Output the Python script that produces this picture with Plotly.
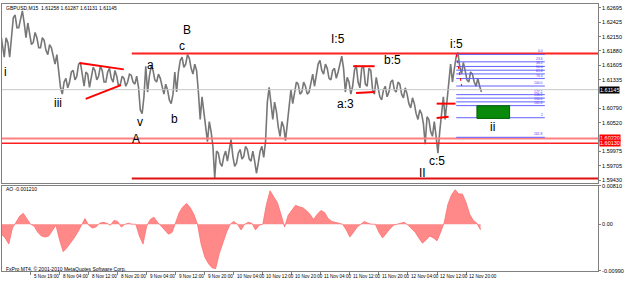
import plotly.graph_objects as go

# ---------------- data ----------------
hours = list(range(133))  # trading hours from 5 Nov 11:00 (M15 chart, hourly summary)
price_high = [1.6223, 1.6213, 1.6204, 1.6251, 1.6256, 1.6251, 1.6264, 1.6241, 1.6223, 1.6223,
              1.6213, 1.6213, 1.6208, 1.6200, 1.6194, 1.6181, 1.6148, 1.6129, 1.6136, 1.6148,
              1.6151, 1.6163, 1.6166, 1.6148, 1.6144, 1.6157, 1.6151, 1.6159, 1.6151, 1.6148,
              1.6155, 1.6151, 1.6140, 1.6140, 1.6136, 1.6144, 1.6142, 1.6140, 1.6119, 1.6101,
              1.6159, 1.6159, 1.6151, 1.6144, 1.6136, 1.6125, 1.6114, 1.6106, 1.6148, 1.6170,
              1.6176, 1.6181, 1.6174, 1.6163, 1.6151, 1.6101, 1.6073, 1.6054, 1.6035, 1.5998,
              1.5994, 1.5988, 1.5998, 1.6020, 1.5988, 1.5994, 1.6001, 1.6007, 1.6001, 1.5998,
              1.5979, 1.5998, 1.6007, 1.6091, 1.6119, 1.6091, 1.6073, 1.6054, 1.6044, 1.6091,
              1.6114, 1.6129, 1.6125, 1.6129, 1.6121, 1.6129, 1.6144, 1.6163, 1.6170, 1.6163,
              1.6155, 1.6151, 1.6155, 1.6166, 1.6178, 1.6138, 1.6129, 1.6151, 1.6161, 1.6155,
              1.6159, 1.6155, 1.6151, 1.6138, 1.6119, 1.6114, 1.6121, 1.6129, 1.6133, 1.6129,
              1.6125, 1.6118, 1.6106, 1.6099, 1.6088, 1.6076, 1.6069, 1.6063, 1.6058, 1.6054,
              1.6026, 1.6069, 1.6101, 1.6129, 1.6163, 1.6176, 1.6185, 1.6166, 1.6151, 1.6148,
              1.6144, 1.6136, 1.6121]
price_low = [1.6194, 1.6176, 1.6176, 1.6223, 1.6232, 1.6232, 1.6241, 1.6213, 1.6200, 1.6204,
             1.6194, 1.6194, 1.6189, 1.6181, 1.6176, 1.6163, 1.6119, 1.6106, 1.6118, 1.6129,
             1.6133, 1.6140, 1.6144, 1.6121, 1.6119, 1.6136, 1.6133, 1.6140, 1.6129, 1.6129,
             1.6136, 1.6129, 1.6121, 1.6125, 1.6121, 1.6129, 1.6129, 1.6125, 1.6076, 1.6069,
             1.6110, 1.6140, 1.6133, 1.6129, 1.6118, 1.6106, 1.6095, 1.6088, 1.6110, 1.6148,
             1.6157, 1.6163, 1.6155, 1.6144, 1.6110, 1.6058, 1.6039, 1.6016, 1.6007, 1.5947,
             1.5975, 1.5969, 1.5979, 1.5998, 1.5969, 1.5975, 1.5983, 1.5988, 1.5983, 1.5979,
             1.5956, 1.5975, 1.5986, 1.6016, 1.6082, 1.6058, 1.6044, 1.6026, 1.6018, 1.6054,
             1.6088, 1.6106, 1.6106, 1.6110, 1.6106, 1.6110, 1.6121, 1.6144, 1.6151, 1.6144,
             1.6136, 1.6133, 1.6136, 1.6148, 1.6155, 1.6110, 1.6106, 1.6121, 1.6129, 1.6118,
             1.6125, 1.6121, 1.6114, 1.6106, 1.6101, 1.6095, 1.6101, 1.6110, 1.6114, 1.6110,
             1.6106, 1.6099, 1.6088, 1.6080, 1.6069, 1.6058, 1.6050, 1.6011, 1.6035, 1.6026,
             1.5994, 1.6035, 1.6058, 1.6091, 1.6129, 1.6151, 1.6159, 1.6144, 1.6133, 1.6129,
             1.6129, 1.6121, 1.6110]
ao_values = [-0.0021, -0.0029, -0.0042, -0.0008, 0.0004, 0.0017, 0.0023, 0.0012, 0.0000, -0.0004,
             -0.0017, -0.0025, -0.0027, -0.0025, -0.0012, -0.0002, -0.0033, -0.0058, -0.0050, -0.0040,
             -0.0029, -0.0017, -0.0002, 0.0012, -0.0002, -0.0008, -0.0006, 0.0002, 0.0004, 0.0002,
             -0.0002, 0.0008, 0.0006, -0.0006, 0.0000, 0.0002, 0.0000, 0.0000, -0.0025, -0.0042,
             -0.0004, 0.0010, 0.0015, 0.0004, -0.0004, -0.0012, -0.0021, -0.0017, 0.0006, 0.0025,
             0.0037, 0.0044, 0.0035, 0.0021, 0.0000, -0.0042, -0.0069, -0.0083, -0.0092, -0.0094,
             -0.0062, -0.0037, -0.0017, 0.0000, 0.0006, 0.0000, -0.0012, 0.0000, 0.0004, 0.0002,
             -0.0012, -0.0002, 0.0000, 0.0042, 0.0071, 0.0058, 0.0046, 0.0021, -0.0006, 0.0019,
             0.0029, 0.0040, 0.0037, 0.0035, 0.0029, 0.0021, 0.0010, 0.0021, 0.0029, 0.0025,
             0.0012, 0.0006, 0.0004, 0.0002, 0.0000, -0.0012, -0.0027, -0.0017, -0.0006, 0.0000,
             0.0006, 0.0002, 0.0000, 0.0000, -0.0017, -0.0029, -0.0019, -0.0010, -0.0002, 0.0000,
             0.0002, 0.0004, -0.0002, -0.0010, -0.0017, -0.0029, -0.0040, -0.0033, -0.0025, -0.0029,
             -0.0035, -0.0017, 0.0004, 0.0042, 0.0062, 0.0073, 0.0064, 0.0064, 0.0046, 0.0021,
             0.0008, 0.0002, -0.0012]

tick_hours = list(range(0, 129, 8))
tick_labels = ["5 Nov 2010", "5 Nov 19:00", "8 Nov 04:00", "8 Nov 12:00", "8 Nov 20:00",
               "9 Nov 04:00", "9 Nov 12:00", "9 Nov 20:00", "10 Nov 04:00", "10 Nov 12:00",
               "10 Nov 20:00", "11 Nov 04:00", "11 Nov 12:00", "11 Nov 20:00", "12 Nov 04:00",
               "12 Nov 12:00", "12 Nov 20:00"]
price_ticks = [1.62695, 1.62425, 1.62150, 1.61880, 1.61605, 1.61335, 1.60790, 1.60520,
               1.59975, 1.59705, 1.59430]
ao_ticks = [0.0081, 0.0, -0.0099]
ao_tick_labels = ["0.00810", "0.00", "-0.00990"]

# drawn objects on the chart (analysis lines)
resistance_price = 1.6183
support_hi_price = 1.6022
support_lo_price = 1.6013
floor_price = 1.5946
long_lines_start = 35.9
last_price = 1.61145
triangle_upper = ([21.5, 33.7], [1.6165, 1.6153])
triangle_lower = ([23.2, 32.9], [1.6097, 1.6123])
range_upper = ([96.9, 102.8], [1.6159, 1.6159])
range_lower = ([97.7, 102.8], [1.6108, 1.6110])
mark_upper = ([119.9, 125.1], [1.6088, 1.6088])
mark_lower = ([119.9, 123.2], [1.6061, 1.6063])
target_box = ([131.0, 140.0], [1.6060, 1.6084])
fib_span = [125.3, 149.7]
fib_0, fib_100 = 1.61815, 1.61214
fib_levels = [0.0, 23.6, 38.2, 50.0, 61.8, 76.4, 100.0, 127.2, 138.2, 150.0, 161.8, 200.0, 261.8]
fib_labels = ["0.0", "23.6", "38.2", "50.0", "61.8", "76.4", "100.0", "127.2", "138.2",
              "150.0", "161.8", "2", "261.8"]
wave_labels = ["i", "iii", "a", "v", "b", "B", "c", "A", "I:5", "b:5", "a:3", "i:5", "ii", "c:5", "II"]
wave_hours = [1.2, 15.6, 41.1, 38.1, 47.8, 51.1, 49.7, 37.0, 92.8, 107.7, 94.7, 125.3, 135.4, 119.9, 116.1]
wave_prices = [1.6148, 1.6089, 1.6161, 1.6054, 1.6058, 1.6228, 1.6198, 1.6020, 1.6210, 1.6170,
               1.6088, 1.6202, 1.6043, 1.5979, 1.5956]

# ---------------- figure ----------------
W, H = 625, 282
ML, MR, MT, MB = 1, 18, 1, 11
X_RANGE = [0.136, 164.36]
FONT = "Liberation Sans"

def paper_x(px):
    return (px - ML) / (W - ML - MR)

def paper_y(py):
    return (H - MB - py) / (H - MT - MB)

fig = go.Figure()

# price bars (hourly high/low as a dense zig-zag)
zx, zy = [], []
for i, h in enumerate(hours):
    zx += [h - 0.25, h + 0.25]
    if i % 2 == 0:
        zy += [price_high[i], price_low[i]]
    else:
        zy += [price_low[i], price_high[i]]
fig.add_trace(go.Scatter(x=zx, y=zy, mode="lines", line=dict(color="#777777", width=1.6),
                         xaxis="x", yaxis="y", hoverinfo="skip", showlegend=False))

# AO histogram
fig.add_trace(go.Scatter(x=hours, y=ao_values, mode="lines", fill="tozeroy",
                         fillcolor="#ff8888", line=dict(color="#ff7070", width=0.8),
                         xaxis="x2", yaxis="y2", hoverinfo="skip", showlegend=False))

shapes = []
def seg(x0, x1, y0, y1, color, width, dash="solid", xref="x", yref="y"):
    shapes.append(dict(type="line", xref=xref, yref=yref, x0=x0, x1=x1, y0=y0, y1=y1,
                       line=dict(color=color, width=width, dash=dash)))

# current price line
seg(X_RANGE[0], X_RANGE[1], last_price, last_price, "#c8c8c8", 1)
# horizontal levels
seg(long_lines_start, X_RANGE[1], resistance_price, resistance_price, "#ff2020", 2)
seg(X_RANGE[0], X_RANGE[1], support_hi_price, support_hi_price, "#ff8080", 2)
seg(X_RANGE[0], X_RANGE[1], support_lo_price, support_lo_price, "#ff2020", 1.5)
seg(long_lines_start, X_RANGE[1], floor_price, floor_price, "#e01010", 2)
# trend lines
for (xs, ys) in [triangle_upper, triangle_lower, range_upper, range_lower, mark_upper, mark_lower]:
    seg(xs[0], xs[1], ys[0], ys[1], "#ff0000", 2)
# fibonacci
for lvl in fib_levels:
    p = fib_0 - lvl / 100.0 * (fib_0 - fib_100)
    seg(fib_span[0], fib_span[1], p, p, "#6060ff", 1)
seg(fib_span[0], fib_span[0] + 1.5, fib_0, fib_100, "#ff0000", 1, dash="dot")
# target box
shapes.append(dict(type="rect", xref="x", yref="y", x0=target_box[0][0], x1=target_box[0][1],
                   y0=target_box[1][0], y1=target_box[1][1], fillcolor="#0a8a0a",
                   line=dict(color="#006400", width=1)))

annotations = []
# fib labels
for lvl, lab in zip(fib_levels, fib_labels):
    p = fib_0 - lvl / 100.0 * (fib_0 - fib_100)
    annotations.append(dict(x=fib_span[1], y=p, xref="x", yref="y", text=lab, showarrow=False,
                            xanchor="right", yanchor="bottom", yshift=-1,
                            font=dict(family=FONT, size=3.4, color="#4040ff")))
# wave labels
for lab, h, p in zip(wave_labels, wave_hours, wave_prices):
    annotations.append(dict(x=h, y=p, xref="x", yref="y", text=lab, showarrow=False,
                            xanchor="center", yanchor="middle",
                            font=dict(family=FONT, size=12, color="#000000")))
# x tick labels (MT4 style, left aligned)
for h, lab in zip(tick_hours, tick_labels):
    annotations.append(dict(x=h, y=paper_y(277), xref="x2", yref="paper", text=lab,
                            showarrow=False, xanchor="left", yanchor="middle", xshift=1,
                            font=dict(family=FONT, size=4.6, color="#000000")))
# price boxes on the axis
for p, txt, bg, fg in [(last_price, "1.61145", "#000000", "#ffffff"),
                       (support_hi_price, "1.60220", "#ff0000", "#ffffff"),
                       (support_lo_price, "1.60130", "#ff0000", "#ffffff")]:
    annotations.append(dict(x=paper_x(608), y=p, xref="paper", yref="y", text=txt,
                            showarrow=False, xanchor="left", yanchor="middle",
                            bgcolor=bg, borderpad=0,
                            font=dict(family=FONT, size=5.5, color=fg)))
# texts
annotations.append(dict(x=paper_x(3), y=paper_y(5), xref="paper", yref="paper",
                        text="GBPUSD,M15  1.61258 1.61287 1.61131 1.61145", showarrow=False,
                        xanchor="left", yanchor="middle", font=dict(family=FONT, size=5, color="#000000")))
annotations.append(dict(x=paper_x(3), y=paper_y(188), xref="paper", yref="paper",
                        text="AO -0.001210", showarrow=False,
                        xanchor="left", yanchor="middle", font=dict(family=FONT, size=5, color="#000000")))
annotations.append(dict(x=paper_x(3), y=paper_y(269), xref="paper", yref="paper",
                        text="FxPro MT4, © 2001-2010 MetaQuotes Software Corp.", showarrow=False,
                        xanchor="left", yanchor="middle", font=dict(family=FONT, size=5, color="#000000")))

main_bottom = paper_y(182)
ind_top = paper_y(185)

fig.update_layout(
    width=W, height=H, margin=dict(l=ML, r=MR, t=MT, b=MB, pad=0),
    paper_bgcolor="#ffffff", plot_bgcolor="#ffffff",
    showlegend=False, shapes=shapes, annotations=annotations,
    font=dict(family=FONT, size=6, color="#000000"),
    xaxis=dict(domain=[0, 1], range=X_RANGE, anchor="y", showticklabels=False, showgrid=False,
               zeroline=False, showline=True, mirror=True, linecolor="#808080", linewidth=1,
               ticks=""),
    yaxis=dict(domain=[main_bottom, 1], range=[1.59375, 1.62770], side="right", anchor="x",
               tickvals=price_ticks, ticktext=[f"{v:.5f}" for v in price_ticks],
               showgrid=False, zeroline=False, showline=True, mirror=True, linecolor="#808080",
               linewidth=1, ticks="outside", ticklen=2, tickcolor="#808080",
               tickfont=dict(family=FONT, size=5.5, color="#000000")),
    xaxis2=dict(domain=[0, 1], range=X_RANGE, anchor="y2", tickvals=tick_hours,
                showticklabels=False, showgrid=False, zeroline=False, showline=True, mirror=True,
                linecolor="#808080", linewidth=1, ticks="outside", ticklen=3, tickcolor="#808080"),
    yaxis2=dict(domain=[0, ind_top], range=[-0.0099, 0.0081], side="right", anchor="x2",
                tickvals=ao_ticks, ticktext=ao_tick_labels, showgrid=False, zeroline=False,
                showline=True, mirror=True, linecolor="#808080", linewidth=1,
                ticks="outside", ticklen=2, tickcolor="#808080",
                tickfont=dict(family=FONT, size=5.5, color="#000000")),
)

fig.write_html("out.html")
